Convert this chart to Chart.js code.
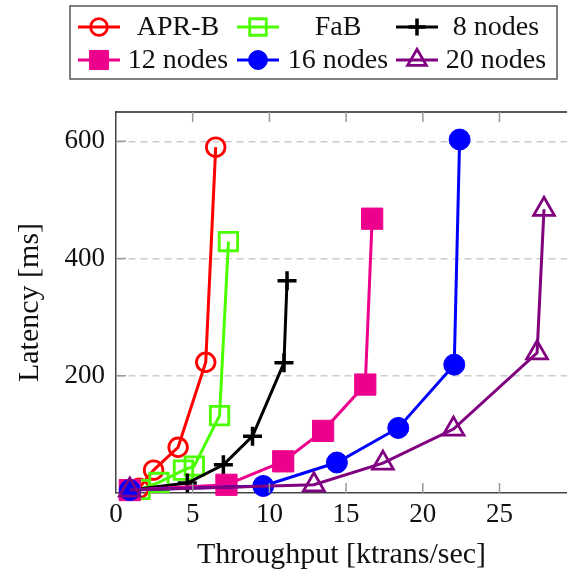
<!DOCTYPE html>
<html>
<head>
<meta charset="utf-8">
<script src="https://cdn.jsdelivr.net/npm/chart.js@4.4.1/dist/chart.umd.min.js"></script>
<style>
  html, body { margin: 0; padding: 0; background: #fff; }
  canvas { display: block; }
</style>
</head>
<body>
<canvas id="myChart" width="567" height="577"></canvas>
<script>
/* values: throughput (ktrans/sec) vs latency (ms) */
var aprX = [1.5, 2.45, 4.05, 5.85, 6.5];
var aprY = [8, 39, 78, 223, 590];

var fabX = [1.57, 2.8, 4.4, 5.1, 6.75, 7.33];
var fabY = [6, 18, 39, 46, 132, 429];

var n8X = [0.9, 4.65, 7.0, 8.9, 10.95, 11.15];
var n8Y = [5, 17, 48, 97, 222, 362];

var n12X = [0.9, 7.2, 10.9, 13.5, 16.25, 16.7];
var n12Y = [5, 14, 54, 106, 185, 468];

var n16X = [0.9, 9.6, 14.4, 18.4, 22.05, 22.4];
var n16Y = [5, 12, 52, 111, 219, 603];

var n20X = [0.9, 12.9, 17.4, 22.0, 27.45, 27.9];
var n20Y = [5, 14, 51, 109, 239, 484];

var seriesNames = ['APR-B', 'FaB', '8 nodes', '12 nodes', '16 nodes', '20 nodes'];
var xTickStep = 5;
var yTickStep = 200;

function pts(xs, ys) {
    return xs.map(function (x, i) { return { x: x, y: ys[i] }; });
}

var serif = '"Liberation Serif", "DejaVu Serif", serif';
var clear = 'rgba(0,0,0,0)';

function series(i, xs, ys, color, style, radius, fill, order) {
    return {
        label: seriesNames[i],
        data: pts(xs, ys),
        borderColor: color,
        borderWidth: 3,
        pointStyle: style,
        pointRadius: radius,
        pointBorderWidth: style === 'cross' ? 3.5 : (fill ? 1 : 2.8),
        pointBorderColor: color,
        pointBackgroundColor: fill ? color : clear,
        backgroundColor: clear,
        fill: false,
        tension: 0,
        clip: false,
        order: order
    };
}

/* inward tick marks + top frame line, pgfplots style */
var frameTicks = {
    id: 'frameTicks',
    afterDraw: function (chart) {
        var ctx = chart.ctx, a = chart.chartArea;
        var xs = chart.scales.x, ys = chart.scales.y;
        ctx.save();
        ctx.strokeStyle = '#222';
        ctx.lineWidth = 1.5;
        ctx.beginPath();
        ctx.moveTo(a.left, a.top);
        ctx.lineTo(a.right, a.top);
        ctx.stroke();
        ctx.strokeStyle = '#999';
        ctx.lineWidth = 1.5;
        xs.ticks.forEach(function (t) {
            if (t.value === 0) return;
            var px = xs.getPixelForValue(t.value);
            ctx.beginPath();
            ctx.moveTo(px, a.bottom); ctx.lineTo(px, a.bottom - 10);
            ctx.moveTo(px, a.top); ctx.lineTo(px, a.top + 10);
            ctx.stroke();
        });
        ys.ticks.forEach(function (t) {
            if (t.value === 0) return;
            var py = ys.getPixelForValue(t.value);
            ctx.beginPath();
            ctx.moveTo(a.left, py); ctx.lineTo(a.left + 10, py);
            ctx.stroke();
        });
        ctx.restore();
    }
};

/* legend drawn as a 3x2 grid inside a frame */
var gridLegend = {
    id: 'gridLegend',
    afterDraw: function (chart) {
        var ctx = chart.ctx;
        var markX = [99, 258, 417];
        var textX = [178, 338, 496];
        var rowY = [27, 60];
        ctx.save();
        ctx.strokeStyle = '#555';
        ctx.lineWidth = 1.5;
        ctx.strokeRect(70, 6, 487, 73);
        chart.data.datasets.forEach(function (ds, i) {
            var cx = markX[i % 3], cy = rowY[Math.floor(i / 3)];
            ctx.strokeStyle = ds.borderColor;
            ctx.lineWidth = ds.borderWidth;
            ctx.beginPath();
            ctx.moveTo(cx - 21, cy); ctx.lineTo(cx + 21, cy);
            ctx.stroke();
            ctx.fillStyle = ds.pointBackgroundColor;
            ctx.strokeStyle = ds.pointBorderColor;
            ctx.lineWidth = ds.pointBorderWidth;
            Chart.helpers.drawPoint(ctx, {
                pointStyle: ds.pointStyle,
                radius: ds.pointRadius * 0.9,
                borderWidth: ds.pointBorderWidth,
                rotation: 0
            }, cx, cy);
            ctx.fillStyle = '#111';
            ctx.font = '28px ' + serif;
            ctx.textAlign = 'center';
            ctx.textBaseline = 'middle';
            ctx.fillText(ds.label, textX[i % 3], cy + 1);
        });
        ctx.restore();
    }
};

var ctx = document.getElementById('myChart').getContext('2d');
var myChart = new Chart(ctx, {
    type: 'line',
    data: {
        datasets: [
            series(0, aprX, aprY, '#ff0000', 'circle', 9.3, false, 5),
            series(1, fabX, fabY, '#4cff00', 'rect', 13, false, 4),
            series(2, n8X, n8Y, '#000000', 'cross', 9.5, false, 3),
            series(3, n12X, n12Y, '#ec008c', 'rect', 15, true, 2),
            series(4, n16X, n16Y, '#0000ff', 'circle', 10.5, true, 1),
            series(5, n20X, n20Y, '#800080', 'triangle', 12, false, 0)
        ]
    },
    options: {
        responsive: false,
        animation: false,
        layout: { autoPadding: false, padding: { top: 112, right: 0, bottom: 0, left: 0 } },
        plugins: {
            legend: { display: false },
            tooltip: { enabled: false }
        },
        scales: {
            x: {
                type: 'linear',
                min: 0,
                max: 29.4,
                afterFit: function (s) {
                    s.height = 84;
                    s.paddingLeft = 0;
                    s.paddingRight = 0;
                },
                ticks: {
                    stepSize: xTickStep,
                    includeBounds: false,
                    maxRotation: 0,
                    padding: -2,
                    color: '#111',
                    font: { family: serif, size: 27 }
                },
                grid: { display: false },
                border: { display: true, color: '#444', width: 1.5 },
                title: {
                    display: true,
                    text: 'Throughput [ktrans/sec]',
                    color: '#111',
                    font: { family: serif, size: 30 },
                    padding: { top: 0, bottom: 4 }
                }
            },
            y: {
                min: 0,
                max: 650,
                afterFit: function (s) { s.width = 116; },
                ticks: {
                    stepSize: yTickStep,
                    includeBounds: false,
                    padding: 11,
                    color: '#111',
                    font: { family: serif, size: 27 },
                    callback: function (v) { return v === 0 ? '' : v; }
                },
                grid: {
                    drawTicks: false,
                    lineWidth: 1.5,
                    color: function (c) { return c.tick && c.tick.value === 0 ? clear : '#cccccc'; }
                },
                border: { display: true, color: '#444', width: 1.5, dash: [7, 5] },
                title: {
                    display: true,
                    text: 'Latency [ms]',
                    color: '#111',
                    font: { family: serif, size: 30 },
                    padding: { top: 12, bottom: 0 }
                }
            }
        }
    },
    plugins: [frameTicks, gridLegend]
});
</script>
</body>
</html>
